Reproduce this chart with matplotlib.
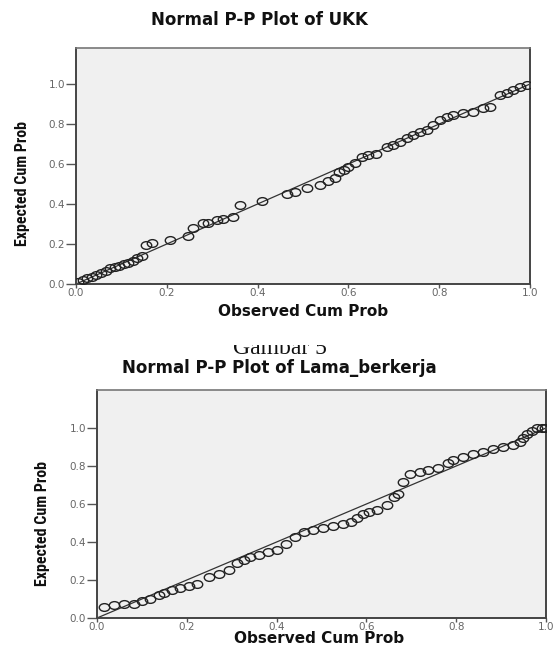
import matplotlib
matplotlib.use("Agg")
import matplotlib.pyplot as plt
from matplotlib.path import Path
from matplotlib.patches import Rectangle
from matplotlib.transforms import Affine2D

# ---- data ----
ukk_obs = [0.005, 0.015, 0.025, 0.035, 0.045, 0.055, 0.065, 0.075, 0.085, 0.095,
           0.105, 0.115, 0.125, 0.135, 0.145,
           0.155, 0.168, 0.207, 0.247, 0.258, 0.28, 0.29, 0.31, 0.324, 0.346,
           0.361, 0.41,
           0.465, 0.482, 0.509, 0.537, 0.555, 0.57, 0.58, 0.59, 0.6, 0.615,
           0.63, 0.643, 0.66, 0.685, 0.698, 0.714, 0.729, 0.742, 0.758, 0.773,
           0.786, 0.802, 0.817, 0.83, 0.852, 0.874, 0.896, 0.912, 0.934, 0.949,
           0.963, 0.978, 0.993]
ukk_exp = [0.01, 0.02, 0.03, 0.035, 0.045, 0.055, 0.065, 0.08, 0.085, 0.09,
           0.1, 0.105, 0.115, 0.13, 0.14,
           0.195, 0.205, 0.22, 0.24, 0.28, 0.305, 0.305, 0.32, 0.325, 0.335,
           0.395, 0.415,
           0.45, 0.46, 0.48, 0.495, 0.515, 0.53, 0.56, 0.57, 0.585, 0.605,
           0.635, 0.645, 0.65, 0.685, 0.695, 0.71, 0.73, 0.745, 0.76, 0.77,
           0.795, 0.82, 0.835, 0.845, 0.855, 0.86, 0.88, 0.885, 0.945, 0.955,
           0.97, 0.985, 0.995]

lama_obs = [0.015, 0.038, 0.06, 0.082, 0.1, 0.118, 0.138, 0.149, 0.167, 0.185,
            0.205, 0.223, 0.249, 0.272, 0.294, 0.312, 0.327, 0.341, 0.36, 0.38,
            0.4, 0.42, 0.44, 0.46, 0.48, 0.503, 0.526, 0.548, 0.566, 0.579,
            0.592, 0.606, 0.624, 0.646, 0.661, 0.671, 0.681, 0.697, 0.719, 0.737,
            0.759, 0.782, 0.793, 0.815, 0.837, 0.86, 0.882, 0.904, 0.927, 0.942,
            0.949, 0.958, 0.969, 0.98, 0.991, 0.998]
lama_exp = [0.06, 0.068, 0.074, 0.076, 0.09, 0.1, 0.12, 0.13, 0.145, 0.16,
            0.17, 0.178, 0.216, 0.232, 0.253, 0.289, 0.305, 0.321, 0.33, 0.345,
            0.36, 0.39, 0.425, 0.453, 0.463, 0.474, 0.484, 0.495, 0.505, 0.526,
            0.55, 0.558, 0.568, 0.595, 0.637, 0.655, 0.716, 0.758, 0.768, 0.779,
            0.789, 0.816, 0.832, 0.847, 0.862, 0.874, 0.889, 0.9, 0.911, 0.926,
            0.947, 0.968, 0.985, 1.0, 1.0, 1.0]

ticks = [0.0, 0.2, 0.4, 0.6, 0.8, 1.0]
tick_labels = ["0.0", "0.2", "0.4", "0.6", "0.8", "1.0"]

W, H = 560, 647
fig = plt.figure(figsize=(W / 100, H / 100), dpi=100)

# slightly wide open circle, like the stretched SPSS markers
circ = Path.unit_circle()
oval = Path(Affine2D().scale(1.35, 1.0).transform(circ.vertices), circ.codes)


def px_axes(left, right, top, bottom):
    return fig.add_axes([left / W, 1 - bottom / H, (right - left) / W, (bottom - top) / H])


def draw_pp(ax, obs, exp, ytop):
    ax.set_facecolor("#f0f0f0")
    ax.plot([0, 1], [0, 1], color="#333333", lw=0.9, zorder=2)
    ax.plot(obs, exp, linestyle="none", marker=oval, markersize=7.5,
            markerfacecolor="none", markeredgecolor="#222222", markeredgewidth=1.0, zorder=3)
    ax.set_xlim(0, 1)
    ax.set_ylim(0, ytop)
    ax.set_xticks(ticks)
    ax.set_xticklabels(tick_labels)
    ax.set_yticks(ticks)
    ax.set_yticklabels(tick_labels)
    ax.tick_params(axis="x", direction="out", length=3, width=1, color="#555555",
                   labelsize=7.5, labelcolor="#666666", pad=0)
    ax.tick_params(axis="y", direction="out", length=7, width=1, color="#555555",
                   labelsize=7.5, labelcolor="#666666", pad=1)
    for s in ["left", "right", "bottom"]:
        ax.spines[s].set_color("#444444")
        ax.spines[s].set_linewidth(1.4)
    ax.spines["top"].set_color("#777777")
    ax.spines["top"].set_linewidth(1.2)


title_kw = dict(fontsize=12, fontweight="bold", family="DejaVu Sans", color="#111111",
                ha="center", va="baseline")
xlab_kw = dict(title_kw, fontsize=11)
ylab_kw = dict(fontsize=11.5, fontweight="bold", fontstretch="condensed",
               family=["Liberation Sans Narrow", "Roboto Condensed", "Roboto"],
               color="#111111", rotation=90, ha="center", va="center")

# top chart
ax1 = px_axes(76, 530, 48, 284)
draw_pp(ax1, ukk_obs, ukk_exp, 1.18)
fig.text(259 / W, 1 - 25 / H, "Normal P-P Plot of UKK", **title_kw)
fig.text(303 / W, 1 - 316 / H, "Observed Cum Prob", **xlab_kw)
fig.text(23 / W, 1 - 184 / H, "Expected Cum Prob", **ylab_kw)

# caption between the charts; its top half is cut off in the scan
fig.text(280 / W, 1 - 354 / H, "Gambar 5", fontsize=17, family="Liberation Serif",
         ha="center", va="baseline", color="#111111", zorder=3)
fig.patches.append(Rectangle((200 / W, 1 - 345.5 / H), 160 / W, 25 / H,
                             transform=fig.transFigure, facecolor="white",
                             edgecolor="none", zorder=5))

# bottom chart
ax2 = px_axes(97, 546, 390, 618)
draw_pp(ax2, lama_obs, lama_exp, 1.2)
fig.text(279 / W, 1 - 373 / H, "Normal P-P Plot of Lama_berkerja", **title_kw)
fig.text(319 / W, 1 - 643 / H, "Observed Cum Prob", **xlab_kw)
fig.text(43 / W, 1 - 523 / H, "Expected Cum Prob", **ylab_kw)

fig.savefig("out.png", dpi=100)
